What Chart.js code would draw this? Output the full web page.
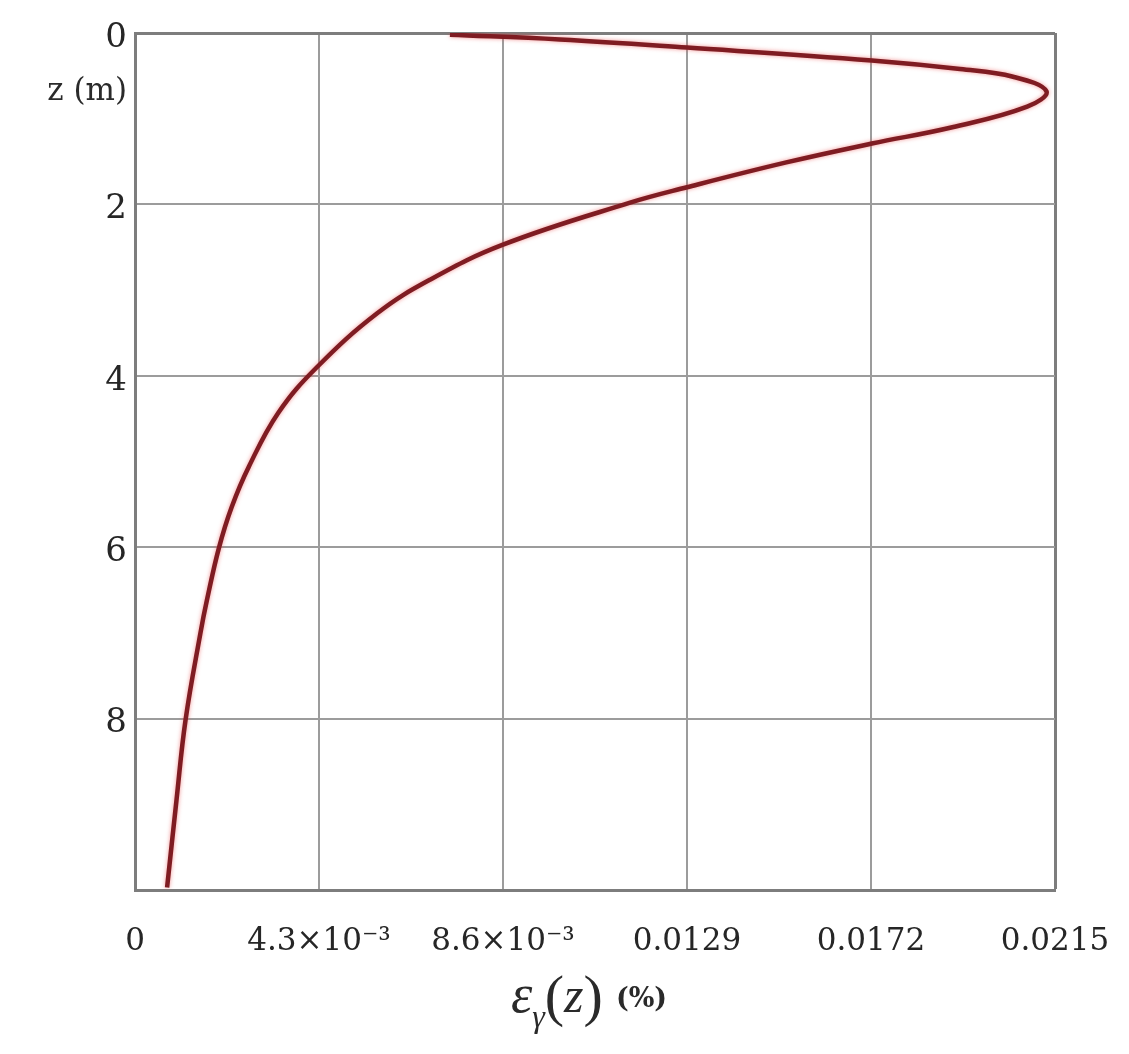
<!DOCTYPE html>
<html>
<head>
<meta charset="utf-8">
<title>Strain vs depth</title>
<script src="https://cdn.jsdelivr.net/npm/chart.js@4.4.1/dist/chart.umd.min.js"></script>
<style>
  html, body { margin: 0; padding: 0; background: #fff; }
  #wrap { position: relative; width: 1129px; height: 1054px; }
</style>
</head>
<body>
<div id="wrap"><canvas id="strainChart"></canvas></div>
<script>
// depth below surface (m)
const depthZ = [0.02, 0.076, 0.17, 0.32, 0.42, 0.51, 0.68, 0.86, 1.10, 1.29, 1.51, 1.80, 1.98,
    2.47, 2.88, 3.27, 3.90, 4.43, 5.06, 5.53, 6.01, 6.62, 7.00, 8.02, 8.95, 9.97];
// epsilon_gamma(z) in %
const strainEps = [0.00736, 0.00993, 0.0129, 0.01722, 0.01928, 0.02052, 0.0213, 0.02085,
    0.0191, 0.01722, 0.01522, 0.0129, 0.01157, 0.0086, 0.00689, 0.00566, 0.00425, 0.00335, 0.00266,
    0.00226, 0.00196, 0.00168, 0.00153, 0.00118, 0.00097, 0.00075];

const xTickValues = [0, 0.0043, 0.0086, 0.0129, 0.0172, 0.0215];
const xTickLabels = ['0', '4.3\u00d710\u207b\u00b3', '8.6\u00d710\u207b\u00b3', '0.0129', '0.0172', '0.0215'];
const yTickValues = [0, 2, 4, 6, 8, 10];
const yTickLabels = ['0', '2', '4', '6', '8', ''];

const serif = '"DejaVu Serif", "Liberation Serif", serif';

const points = depthZ.map((z, i) => ({ x: strainEps[i], y: z }));

// soft red halo round the curve
const haloPlugin = {
    id: 'halo',
    beforeDatasetDraw(chart) {
        const c = chart.ctx;
        c.save();
        c.shadowColor = 'rgba(235, 80, 80, 0.6)';
        c.shadowBlur = 4;
    },
    afterDatasetDraw(chart) {
        chart.ctx.restore();
    }
};

// axis captions: "z (m)" and eps_gamma(z) (%)
const captionPlugin = {
    id: 'captions',
    afterDraw(chart) {
        const c = chart.ctx;
        const area = chart.chartArea;
        c.save();
        c.fillStyle = '#2a2a2a';
        c.textBaseline = 'middle';
        c.textAlign = 'right';
        c.font = '31px ' + serif;
        c.fillText('z (m)', area.left - 8, 92);

        // x caption built from pieces
        const parts = [
            { t: '\u03b5', f: 'italic 54px "Liberation Serif", serif', dy: 0 },
            { t: '\u03b3', f: 'italic 32px "Liberation Serif", serif', dy: 15 },
            { t: '(', f: '58px "Liberation Serif", serif', dy: 3 },
            { t: 'z', f: 'italic 50px "Liberation Serif", serif', dy: 0 },
            { t: ')', f: '58px "Liberation Serif", serif', dy: 3 },
            { t: '  ', f: '26px "Liberation Serif", serif', dy: 0 },
            { t: '(%)', f: 'bold 27px ' + serif, dy: -5 }
        ];
        c.textAlign = 'left';
        c.textBaseline = 'alphabetic';
        let total = 0;
        parts.forEach(p => { c.font = p.f; p.w = c.measureText(p.t).width; total += p.w; });
        let x = (area.left + area.right) / 2 - total / 2 - 6;
        const base = 1012;
        parts.forEach(p => {
            c.font = p.f;
            c.fillText(p.t, x, base + p.dy);
            x += p.w;
        });
        c.restore();
    }
};

const edgeColor = '#7d7d7d';
const gridColor = '#9c9c9c';

new Chart(document.getElementById('strainChart'), {
    type: 'line',
    data: {
        datasets: [{
            data: points,
            borderColor: '#7f1c22',
            borderWidth: 4.5,
            pointRadius: 0,
            fill: false,
            tension: 0.4
        }]
    },
    options: {
        indexAxis: 'y',
        responsive: true,
        maintainAspectRatio: false,
        animation: false,
        layout: { padding: { top: 33, right: 74, left: 0, bottom: 0 } },
        plugins: { legend: { display: false }, tooltip: { enabled: false } },
        scales: {
            x: {
                type: 'linear',
                position: 'bottom',
                min: 0,
                max: 0.0215,
                afterBuildTicks: s => { s.ticks = xTickValues.map(v => ({ value: v })); },
                afterFit: s => { s.height = 164; s.paddingLeft = 0; s.paddingRight = 0; },
                grid: {
                    drawTicks: false,
                    color: ctx => ctx.index === xTickValues.length - 1 ? edgeColor : gridColor,
                    lineWidth: ctx => ctx.index === xTickValues.length - 1 ? 3 : 2
                },
                border: { color: edgeColor, width: 3 },
                ticks: {
                    padding: 33,
                    maxRotation: 0,
                    autoSkip: false,
                    color: '#262626',
                    font: { family: serif, size: 31 },
                    callback: (v, i) => xTickLabels[i]
                }
            },
            y: {
                type: 'linear',
                reverse: true,
                min: 0,
                max: 10,
                afterBuildTicks: s => { s.ticks = yTickValues.map(v => ({ value: v })); },
                afterFit: s => { s.width = 135; },
                grid: {
                    drawTicks: false,
                    color: ctx => ctx.index === 0 ? edgeColor : gridColor,
                    lineWidth: ctx => ctx.index === 0 ? 3 : 2
                },
                border: { color: edgeColor, width: 3 },
                ticks: {
                    padding: 8,
                    labelOffset: 5,
                    autoSkip: false,
                    color: '#262626',
                    font: { family: serif, size: 34 },
                    callback: (v, i) => yTickLabels[i]
                }
            }
        }
    },
    plugins: [haloPlugin, captionPlugin]
});
</script>
</body>
</html>
